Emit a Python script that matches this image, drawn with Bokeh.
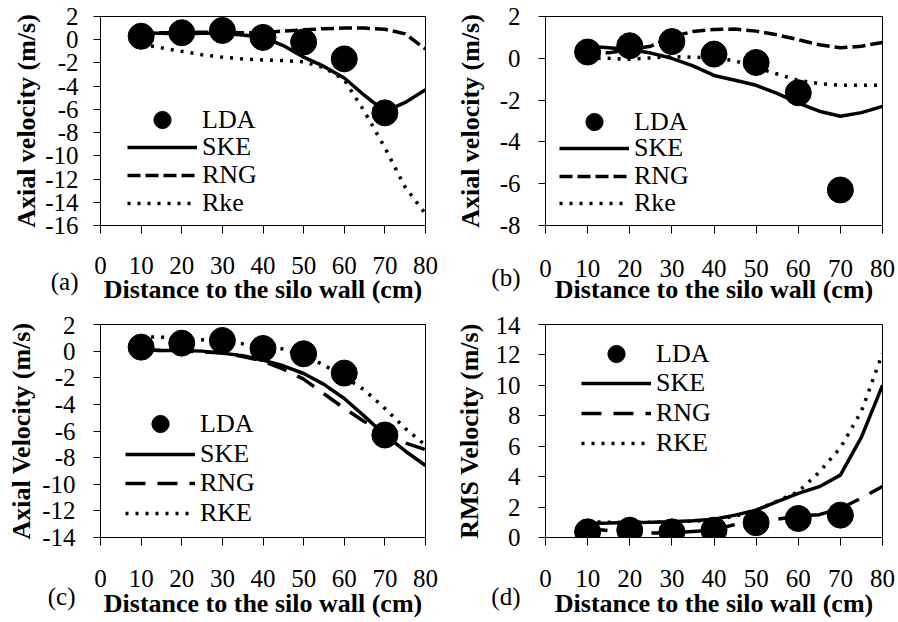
from bokeh.plotting import figure
from bokeh.models import Range1d, FixedTicker, Legend, LegendItem
from bokeh.layouts import gridplot
from bokeh.embed import file_html
from bokeh.resources import INLINE

# ---------------- data ----------------
x_ticks = [0, 10, 20, 30, 40, 50, 60, 70, 80]
x_tick_labels = ["0", "10", "20", "30", "40", "50", "60", "70", "80"]

x_lda = [10, 20, 30, 40, 50, 60, 70]
x_sim = [10, 15, 20, 25, 30, 35, 40, 45, 50, 55, 60, 65, 70, 75, 80]

lda_axial = [0.3, 0.6, 0.8, 0.2, -0.2, -1.65, -6.3]
lda_rms = [0.37, 0.48, 0.37, 0.48, 0.97, 1.25, 1.47]

# panel (a)
a_ske = [0.57, 0.55, 0.5, 0.55, 0.55, 0.4, 0.2, -0.5, -1.5, -2.3, -3.3, -4.8, -6.2, -5.4, -4.3]
a_rng = [0.6, 0.6, 0.6, 0.65, 0.65, 0.6, 0.6, 0.75, 0.85, 0.95, 1.0, 1.0, 0.9, 0.5, -0.8]
a_rke = [-0.4, -0.7, -1.0, -1.3, -1.5, -1.65, -1.75, -1.8, -1.9, -2.4, -3.45, -6.2, -9.3, -12.7, -15.0]
a_y_ticks = [-16, -14, -12, -10, -8, -6, -4, -2, 0, 2]
a_y_labels = ["-16", "-14", "-12", "-10", "-8", "-6", "-4", "-2", "0", "2"]

# panel (b)
b_ske = [0.58, 0.5, 0.42, 0.25, 0.0, -0.36, -0.82, -1.05, -1.29, -1.68, -2.15, -2.53, -2.77, -2.6, -2.3]
b_rng = [0.3, 0.26, 0.42, 0.58, 1.04, 1.28, 1.38, 1.4, 1.3, 1.12, 0.89, 0.65, 0.5, 0.58, 0.76]
b_rke = [0.0, 0.0, -0.05, 0.02, 0.08, 0.05, 0.03, -0.12, -0.44, -0.75, -1.06, -1.21, -1.29, -1.29, -1.29]
b_y_ticks = [-8, -6, -4, -2, 0, 2]
b_y_labels = ["-8", "-6", "-4", "-2", "0", "2"]

# panel (c)
c_ske = [0.1, 0.05, 0.05, 0.0, -0.15, -0.35, -0.68, -1.1, -1.68, -2.5, -3.56, -4.9, -6.3, -7.5, -8.6]
c_rng = [0.1, 0.05, 0.0, -0.05, -0.15, -0.4, -0.75, -1.35, -2.1, -3.2, -4.3, -5.3, -6.1, -6.9, -7.4]
c_rke = [1.08, 1.05, 0.95, 0.85, 0.7, 0.55, 0.45, 0.15, -0.3, -1.05, -1.93, -2.93, -4.3, -5.8, -7.07]
c_y_ticks = [-14, -12, -10, -8, -6, -4, -2, 0, 2]
c_y_labels = ["-14", "-12", "-10", "-8", "-6", "-4", "-2", "0", "2"]

# panel (d)
d_ske = [0.92, 0.95, 0.99, 1.0, 1.03, 1.1, 1.2, 1.47, 1.8, 2.35, 2.9, 3.34, 4.1, 6.6, 10.0]
d_rng = [0.59, 0.45, 0.37, 0.3, 0.3, 0.4, 0.5, 0.85, 1.05, 1.2, 1.4, 1.5, 1.9, 2.6, 3.35]
d_rke = [1.03, 1.0, 1.0, 1.0, 1.03, 1.07, 1.14, 1.4, 1.8, 2.4, 3.0, 4.3, 5.9, 8.3, 12.1]
d_y_ticks = [0, 2, 4, 6, 8, 10, 12, 14]
d_y_labels = ["0", "2", "4", "6", "8", "10", "12", "14"]

SERIF = "Liberation Serif"


def make_panel(cfg):
    w, h = cfg["w"], cfg["h"]
    mbl, mbr, mbt, mbb = cfg["mb"]
    p = figure(width=w, height=h,
               x_range=Range1d(0, 80), y_range=Range1d(*cfg["yr"]),
               output_backend="svg", toolbar_location=None,
               min_border_left=mbl, min_border_right=mbr,
               min_border_top=mbt, min_border_bottom=mbb)
    p.background_fill_color = "white"
    p.border_fill_color = "white"
    p.grid.visible = False
    p.outline_line_color = "black"
    p.outline_line_width = 1
    p.outline_line_alpha = 1

    for ax in (p.xaxis[0], p.yaxis[0]):
        ax.axis_line_color = "black"
        ax.axis_line_width = 1
        ax.major_tick_line_color = "black"
        ax.major_tick_line_width = 1
        ax.major_tick_in = 0
        ax.minor_tick_line_color = None
        ax.major_label_text_font = SERIF
        ax.major_label_text_font_size = "25px"
        ax.major_label_text_color = "black"
        ax.axis_label_text_font = SERIF
        ax.axis_label_text_font_size = "26px"
        ax.axis_label_text_font_style = "bold"
        ax.axis_label_text_color = "black"

    xa = p.xaxis[0]
    xa.ticker = FixedTicker(ticks=x_ticks)
    xa.major_label_overrides = dict(zip(x_ticks, x_tick_labels))
    xa.major_tick_out = 8
    xa.major_label_standoff = cfg["xstand"][0]
    xa.axis_label_standoff = cfg["xstand"][1]
    xa.axis_label = "Distance to the silo wall (cm)"

    # y tick labels; the panel tag "(x)" rides two lines under the lowest tick label
    ya = p.yaxis[0]
    ya.ticker = FixedTicker(ticks=cfg["yt"])
    overrides = dict(zip(cfg["yt"], cfg["yl"]))
    low = min(cfg["yt"])
    overrides[low] = "\n\n" + overrides[low] + "\n\n" + cfg["tagtext"]
    ya.major_label_overrides = overrides
    ya.major_label_text_line_height = cfg["lh"]
    ya.major_tick_out = 7
    ya.major_label_standoff = cfg["ystand"][0]
    ya.axis_label_standoff = cfg["ystand"][1]
    ya.axis_label = cfg["ytitle"]

    r_ske = p.line(x_sim, cfg["ske"], line_color="black", line_width=3.5)
    r_rng = p.line(x_sim, cfg["rng"], line_color="black", line_width=3.5, line_dash=cfg["dash"])
    r_rke = p.line(x_sim, cfg["rke"], line_color="black", line_width=3.5, line_dash="3 7")
    r_lda = p.scatter(x_lda, cfg["lda"], marker="circle", size=26,
                      fill_color="black", line_color="black")

    common = dict(border_line_color=None, background_fill_alpha=0, padding=0, margin=0,
                  label_text_font=SERIF, label_text_font_size="26px", label_text_color="black",
                  glyph_width=70, label_standoff=5, spacing=0)
    lx = cfg["legx"]
    rows = cfg["legrows"]  # centre of each legend row, px above the frame bottom
    items = [("LDA", r_lda, 43), ("SKE", r_ske, 34), ("RNG", r_rng, 34), (cfg["rkename"], r_rke, 34)]
    for (lab, rend, gh), c in zip(items, rows):
        p.add_layout(Legend(items=[LegendItem(label=lab, renderers=[rend])],
                            location=(lx, round(c - gh / 2)), glyph_height=gh, label_height=gh,
                            **common))
    return p


pa = make_panel(dict(w=449, h=311, yr=(-16, 2), mb=(96, 24, 16, 86), xstand=(23, -2), ystand=(15, 1),
                     yt=a_y_ticks, yl=a_y_labels, ytitle="Axial velocity (m/s)", lh=1.03,
                     ske=a_ske, rng=a_rng, rke=a_rke, lda=lda_axial, dash="13 5",
                     legx=27, legrows=(105, 78, 50, 22), rkename="Rke", tagtext="(a)"))
pb = make_panel(dict(w=449, h=311, yr=(-8, 2), mb=(93, 16, 16, 80), xstand=(26, -5), ystand=(18, 3),
                     yt=b_y_ticks, yl=b_y_labels, ytitle="Axial velocity (m/s)", lh=0.97,
                     ske=b_ske, rng=b_rng, rke=b_rke, lda=lda_axial, dash="13 5",
                     legx=14, legrows=(104, 77, 49, 22), rkename="Rke", tagtext="(b)"))
pc = make_panel(dict(w=449, h=311, yr=(-14, 2), mb=(100, 24, 13, 85), xstand=(24, -1), ystand=(18, 3),
                     yt=c_y_ticks, yl=c_y_labels, ytitle="Axial Velocity (m/s)", lh=1.09,
                     ske=c_ske, rng=c_rng, rke=c_rke, lda=lda_axial, dash="20 12",
                     legx=25, legrows=(113, 83, 54, 24), rkename="RKE", tagtext="(c)"))
pd_ = make_panel(dict(w=449, h=311, yr=(0, 14), mb=(96, 14, 13, 85), xstand=(24, -1), ystand=(18, 4),
                      yt=d_y_ticks, yl=d_y_labels, ytitle="RMS Velocity (m/s)", lh=1.09,
                      ske=d_ske, rng=d_rng, rke=d_rke, lda=lda_rms, dash="20 12",
                      legx=36, legrows=(183, 154, 124, 94), rkename="RKE", tagtext="(d)"))

grid = gridplot([[pa, pb], [pc, pd_]], toolbar_location=None)

open("out.html", "w").write(file_html(grid, INLINE))
